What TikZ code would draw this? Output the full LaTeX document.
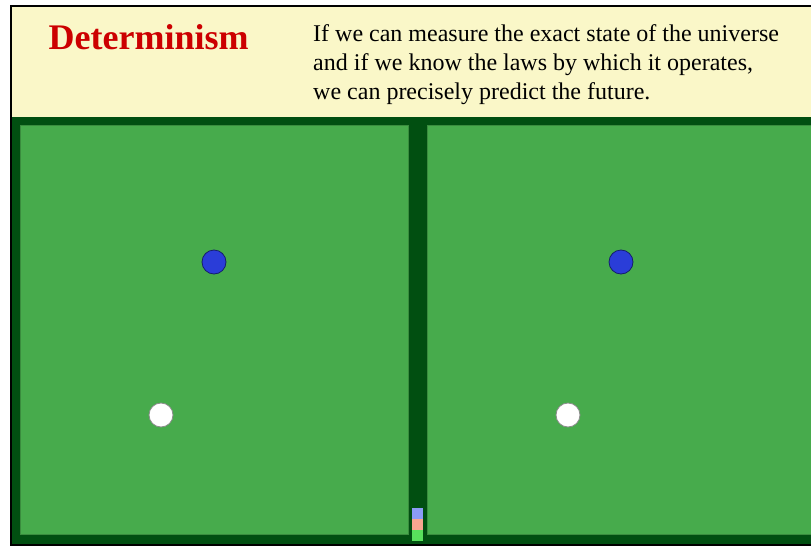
\documentclass[tikz,border=0pt]{standalone}
\usepackage{fontspec}
\setmainfont{Liberation Serif}
\definecolor{hdr}{HTML}{FAF7C8}
\definecolor{dkgreen}{HTML}{014F11}
\definecolor{pgreen}{HTML}{47AB4C}
\definecolor{pborder}{HTML}{3A8C3E}
\definecolor{titlered}{HTML}{CC0000}
\definecolor{ballblue}{HTML}{2A3DD8}
\definecolor{sqblue}{HTML}{8C9CF5}
\definecolor{sqpink}{HTML}{F8A690}
\definecolor{sqgreen}{HTML}{58E05C}
\tikzset{
  panel/.style={fill=pgreen, draw=pborder, line width=1pt},
  blueball/.style={circle, fill=ballblue, draw=ballblue!50!black, line width=0.8pt, minimum size=24pt, inner sep=0pt},
  whiteball/.style={circle, fill=white, draw=black!45, line width=0.8pt, minimum size=24pt, inner sep=0pt},
  sq/.style={minimum size=11pt, inner sep=0pt, draw=none},
  bodytext/.style={anchor=base west, inner sep=0pt, font=\fontsize{24pt}{29pt}\selectfont}
}
\begin{document}
\begin{tikzpicture}[x=1pt,y=-1pt]
\useasboundingbox (0,0) rectangle (811,546);
\fill[white] (0,0) rectangle (811,546);
% header and frame
\fill[black] (9.5,4.5) rectangle (811,546);
\fill[hdr] (11.5,6.5) rectangle (811,117);
\fill[dkgreen] (11.5,117) rectangle (811,544);
% panels
\draw[panel] (20.5,125.5) rectangle (408.5,534);
\draw[panel] (427,125.5) rectangle (816,534);
% texts
\node[anchor=base west, inner sep=0pt, text=titlered, font=\fontsize{36pt}{40pt}\selectfont\bfseries] (title) at (48.5,49.7) {Determinism};
\node[bodytext] (l1) at (313,41) {If we can measure the exact state of the universe};
\node[bodytext] (l2) at (313,70) {and if we know the laws by which it operates,};
\node[bodytext] (l3) at (313,99) {we can precisely predict the future.};
% balls
\node[blueball] (b1) at (214,262) {};
\node[blueball] (b2) at (621,262) {};
\node[whiteball] (w1) at (161,415) {};
\node[whiteball] (w2) at (568,415) {};
% squares
\node[sq, fill=sqblue] (s1) at (417.8,513.8) {};
\node[sq, fill=sqpink] (s2) at (417.8,524.8) {};
\node[sq, fill=sqgreen] (s3) at (417.8,535.8) {};
\end{tikzpicture}
\end{document}
